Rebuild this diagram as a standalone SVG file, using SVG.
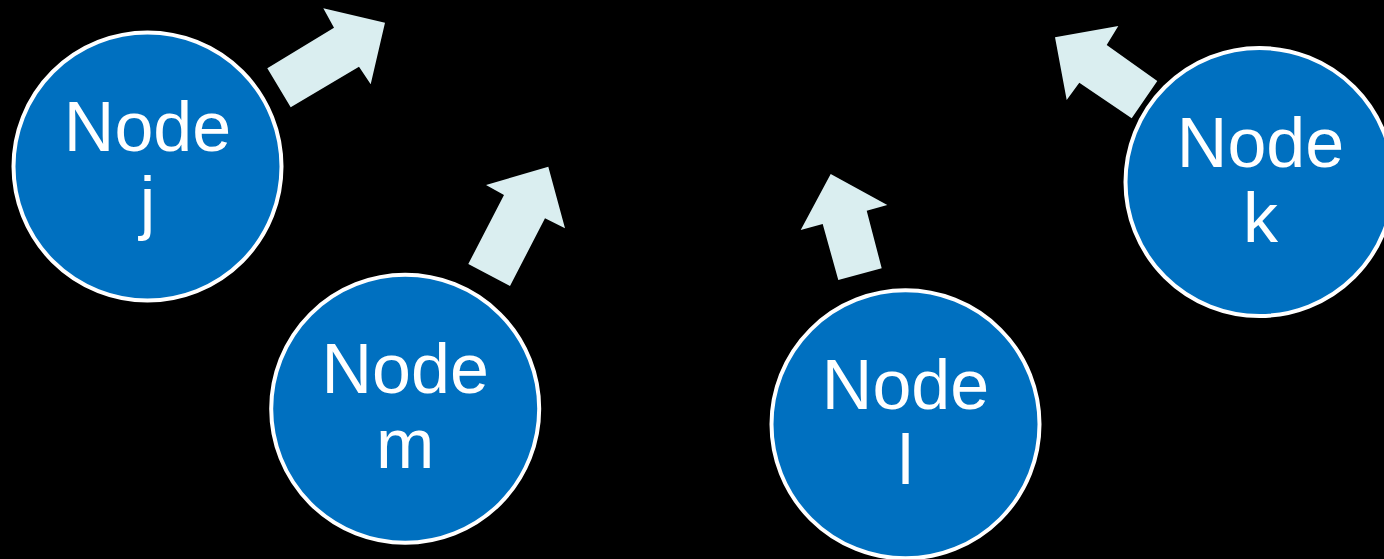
<svg xmlns="http://www.w3.org/2000/svg" width="1384" height="559" viewBox="0 0 1384 559">
<style>
.n{fill:#0070C0;stroke:#FFFFFF;stroke-width:4}
.t{font-family:"Liberation Sans",Arial,sans-serif;font-size:70px;fill:#FFFFFF;text-anchor:middle}
.a{fill:#DAEEF0;stroke:none}
</style>
<rect width="1384" height="559" fill="#000000"/>
<g id="connectors">
<polygon class="a" points="267.3,68.3 290.7,107.3 359,66.7 370.7,84.3 385,22.7 323.3,8.3 334,27.7"/>
<polygon class="a" points="468.3,264 510,286 545,218.3 565,228.3 548.3,166.7 486,185 504,195"/>
<polygon class="a" points="838.3,280 881.7,268.3 866.7,210.7 887.3,205 830.7,174 800.7,230 822.7,224"/>
<polygon class="a" points="1131.7,118.3 1157.3,81 1106.7,45 1118.3,26 1055,37.3 1066.7,100 1079.3,82.7"/>
</g>
<g id="node-j">
<circle class="n" cx="147.5" cy="166.5" r="134"/>
<text class="t" x="147.5" y="151">Node</text>
<text class="t" x="147.5" y="226">j</text>
</g>
<g id="node-m">
<circle class="n" cx="405.2" cy="408.8" r="134"/>
<text class="t" x="405.2" y="393.3">Node</text>
<text class="t" x="405.2" y="468.3">m</text>
</g>
<g id="node-l">
<circle class="n" cx="905.5" cy="424.3" r="134"/>
<text class="t" x="905.5" y="409.3">Node</text>
<text class="t" x="905.5" y="484">l</text>
</g>
<g id="node-k">
<circle class="n" cx="1259.5" cy="182" r="134"/>
<text class="t" x="1260.5" y="166.7">Node</text>
<text class="t" x="1260.5" y="241.7">k</text>
</g>
</svg>
